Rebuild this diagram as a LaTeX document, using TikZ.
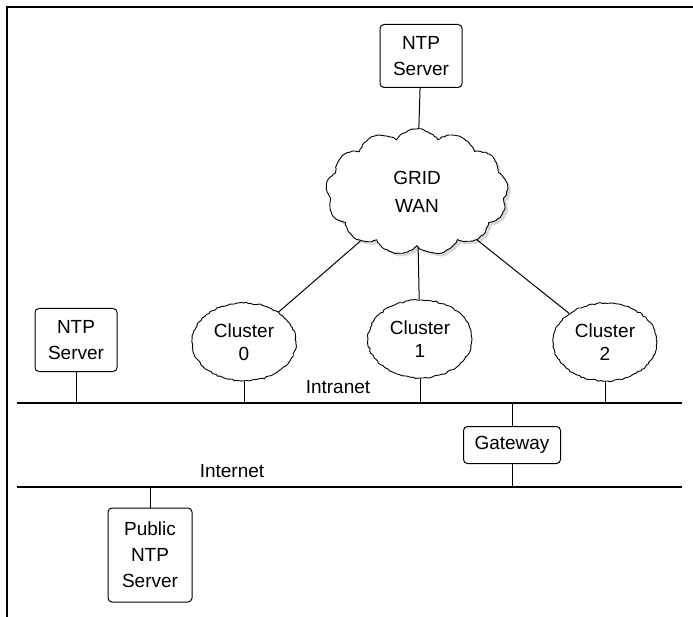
\documentclass[tikz,border=0pt]{standalone}
\usepackage{fontspec}
\setmainfont{Liberation Sans}
\usetikzlibrary{shapes.geometric,shapes.symbols,shadows,decorations.pathmorphing}
\begin{document}
\begin{tikzpicture}[x=1pt,y=-1pt,
    box/.style={draw, line width=1pt, rounded corners=4pt, align=center, inner sep=0pt},
    clusternode/.style={draw, ellipse, line width=0.9pt, align=center, inner sep=0pt,
      minimum width=104pt, minimum height=78pt,
      decoration={random steps, segment length=2.5pt, amplitude=0.8pt}, decorate},
    bus/.style={line width=1.4pt},
    link/.style={line width=1pt}]
  \useasboundingbox (0,0) rectangle (693,617);
  \fontsize{19}{26}\selectfont
  % frame
  \draw[line width=1.4pt] (7,617) -- (7,7) -- (693,7);
  % backbone
  \node[box, minimum width=82pt, minimum height=63pt] (ntptop) at (421,56) {NTP\\Server};
  \node[draw, cloud, cloud puffs=13, cloud puff arc=110, aspect=1.5, line width=0.9pt,
    minimum width=182pt, minimum height=126pt, inner sep=0pt, fill=white,
    decoration={random steps, segment length=2.5pt, amplitude=0.6pt}, decorate,
    drop shadow={shadow xshift=3pt, shadow yshift=-3pt, fill=gray!60},
    align=center, font=\fontsize{19}{28}\selectfont] (wan) at (417,192) {GRID\\WAN};
  \draw[link] (ntptop) -- (wan);
  % clusters
  \node[clusternode, font=\fontsize{19}{23}\selectfont] (c0) at (244,342) {Cluster\\0};
  \node[clusternode, font=\fontsize{19}{23}\selectfont] (c1) at (420,339) {Cluster\\1};
  \node[clusternode, font=\fontsize{19}{23}\selectfont] (c2) at (605,342) {Cluster\\2};
  \draw[link] (wan) -- (c0);
  \draw[link] (wan) -- (c1);
  \draw[link] (wan) -- (c2);
  \node[box, minimum width=82pt, minimum height=63pt] (ntpleft) at (76,340) {NTP\\Server};
  % intranet
  \coordinate (intraL) at (17,403);
  \coordinate (intraR) at (682,403);
  \draw[bus] (intraL) -- (intraR);
  \node (intralabel) at (338,387) {Intranet};
  \draw[link] (ntpleft) -- (ntpleft |- intraL);
  \draw[link] (c0) -- (c0 |- intraL);
  \draw[link] (c1) -- (c1 |- intraL);
  \draw[link] (c2) -- (c2 |- intraL);
  % gateway and internet
  \node[box, minimum width=97pt, minimum height=37pt] (gw) at (512,445) {Gateway};
  \coordinate (interL) at (17,487);
  \coordinate (interR) at (682,487);
  \draw[bus] (interL) -- (interR);
  \node (interlabel) at (232,471) {Internet};
  \draw[link] (gw.north) -- (gw.north |- intraL);
  \draw[link] (gw.south) -- (gw.south |- interL);
  \node[box, minimum width=84pt, minimum height=94pt] (pub) at (150,555) {Public\\NTP\\Server};
  \draw[link] (pub) -- (pub |- interL);
\end{tikzpicture}
\end{document}
